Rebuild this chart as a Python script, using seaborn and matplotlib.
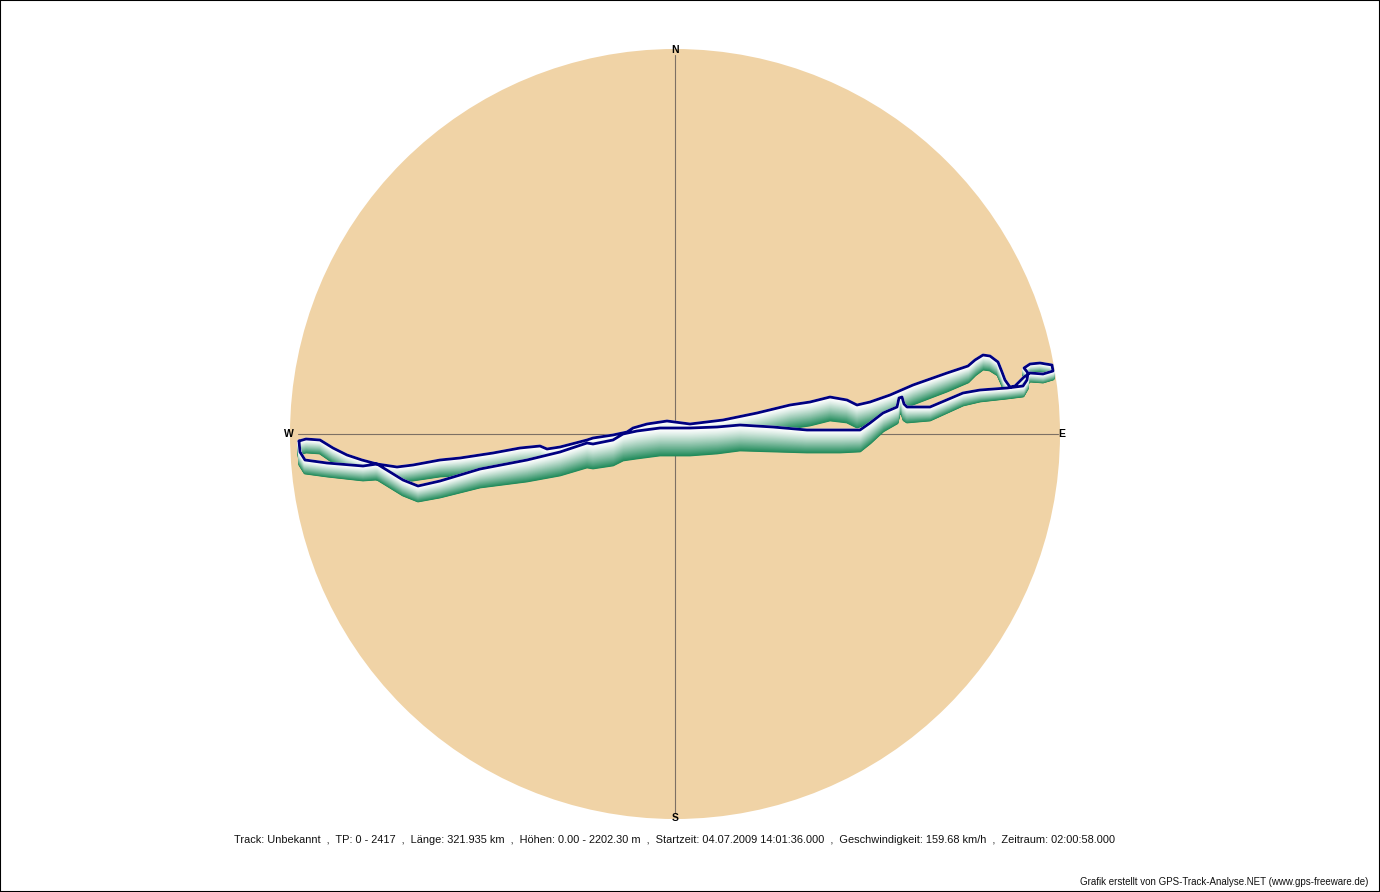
import numpy as np
import matplotlib.pyplot as plt
import matplotlib.patches as mpatches
import seaborn as sns

# track points, east/north offsets from the plot centre (display units)
east = [-376, -369, -355, -342, -328, -313, -298, -285, -272, -257,
        -235, -195, -148, -115, -88, -82, -62, -52, -38, -15,
        15, 42, 65, 98, 132, 165, 185, 195, 208, 222,
        224, 227, 229, 232, 255, 288, 305, 332, 348, 352,
        353, 349, 355, 365, 377, 378, 368, 355, 349, 340,
        335, 330, 327, 323, 315, 308, 300, 293, 272, 238,
        215, 195, 182, 172, 155, 135, 115, 82, 48, 15,
        -8, -28, -42, -48, -62, -82, -88, -115, -128, -135,
        -155, -182, -215, -235, -262, -278, -298, -312, -348, -370,
        -375, -376]
north = [-7, -5, -6, -14, -21, -26, -30, -38, -46, -52,
         -47, -35, -26, -18, -9, -10, -6, 0, 3, 6,
         6, 7, 9, 7, 4, 4, 4, 11, 21, 27,
         36, 37, 30, 27, 27, 41, 44, 46, 48, 54,
         61, 66, 70, 71, 69, 63, 60, 61, 57, 48,
         47, 54, 62, 72, 78, 79, 74, 68, 61, 49,
         39, 32, 29, 34, 37, 32, 29, 21, 14, 10,
         13, 10, 6, 2, -1, -4, -6, -13, -15, -12,
         -14, -19, -24, -26, -31, -33, -30, -32, -29, -26,
         -18, -7]
# relief (height of the elevation wall under the track)
relief = [13, 13, 13, 14, 14, 15, 15, 15, 15, 15,
          16, 18, 21, 23, 24, 24, 25, 26, 27, 27,
          27, 26, 25, 24, 22, 22, 21, 20, 18, 16,
          16, 16, 16, 15, 13, 12, 11, 10, 10, 9,
          8, 8, 8, 8, 8, 8, 8, 8, 9, 10,
          10, 11, 12, 13, 14, 14, 15, 16, 18, 19,
          20, 21, 22, 22, 23, 23, 23, 24, 25, 26,
          26, 26, 26, 25, 25, 24, 24, 22, 21, 21,
          20, 18, 17, 16, 15, 15, 15, 14, 13, 13,
          13, 13]

radius = 385
compass = ["N", "E", "S", "W"]
info = ("Track: Unbekannt  ,  TP: 0 - 2417  ,  Länge: 321.935 km  ,  "
        "Höhen: 0.00 - 2202.30 m  ,  Startzeit: 04.07.2009 14:01:36.000  ,  "
        "Geschwindigkeit: 159.68 km/h  ,  Zeitraum: 02:00:58.000")
credit = "Grafik erstellt von GPS-Track-Analyse.NET (www.gps-freeware.de)"

assert len(east) == len(north) == len(relief)

sns.set_theme(style="white")
plt.rcParams['font.family'] = ['Liberation Sans', 'DejaVu Sans']

e = np.array(east, float)
n = np.array(north, float)
h = np.array(relief, float)

fig = plt.figure(figsize=(13.8, 8.92), dpi=100)
ax = fig.add_axes([0, 0, 1, 1])
ax.set_xlim(-675, 705)
ax.set_ylim(-458, 434)
ax.set_aspect("equal")
ax.axis("off")

ax.add_patch(mpatches.Circle((0, 0), radius, facecolor="#f0d3a6", edgecolor="none", zorder=0))
ax.plot([0, 0], [-radius + 6, radius - 6], color="#7d7064", lw=0.8, zorder=1)
ax.plot([-radius + 8, radius - 2], [0, 0], color="#7d7064", lw=0.8, zorder=1)

lab_pos = {"N": (0, radius - 1), "E": (radius + 2, 0), "S": (0, -radius + 1), "W": (-radius - 1, 0)}
for c in compass:
    x, y = lab_pos[c]
    ax.text(x, y, c, ha="center", va="center", fontsize=7.5, fontweight="bold", color="black", zorder=5)

# elevation wall: white at the track, green at the ground
green = np.array([0.12, 0.54, 0.35])
white = np.array([1.0, 1.0, 1.0])
for t in np.linspace(1, 0, 45):
    w = t ** 1.2
    col = white * (1 - w) + green * w
    ax.plot(e, n - h * t, color=col, lw=2.0, solid_capstyle="round", zorder=2)

track = {"east": e, "north": n}
sns.lineplot(x="east", y="north", data=track, sort=False, estimator=None,
             color="#000080", lw=2.0, ax=ax, zorder=3)
ax.set_xlabel("")
ax.set_ylabel("")

fig.text(675 / 1380, 1 - 840 / 892, info, ha="center", va="center", fontsize=7.9, color="#111111")
fig.text(1368 / 1380, 1 - 882 / 892, credit, ha="right", va="center", fontsize=7, color="#111111")
fig.patches.append(mpatches.Rectangle((0, 0), 1, 1, transform=fig.transFigure, fill=False,
                                      edgecolor="black", lw=1.5))

fig.savefig("out.png", dpi=100, facecolor="white")
